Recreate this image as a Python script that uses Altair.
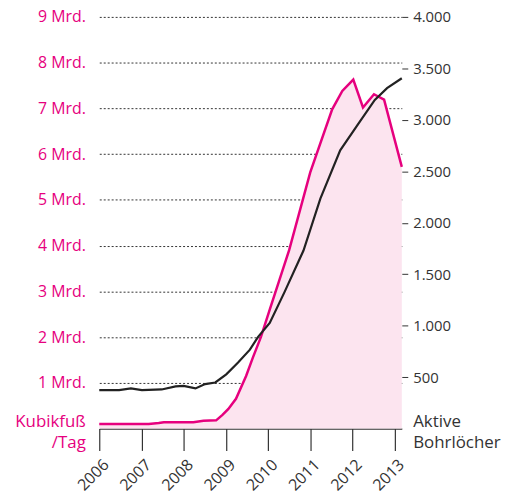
import altair as alt
import pandas as pd

# Erdgasförderung (Mrd. Kubikfuß/Tag)
gas_t = [2006.0, 2007.17, 2007.41, 2007.53, 2008.23, 2008.47, 2008.77, 2008.92, 2009.06,
         2009.24, 2009.48, 2009.64, 2009.83, 2010.04, 2010.27, 2010.5, 2011.0, 2011.52,
         2011.76, 2012.02, 2012.25, 2012.51, 2012.75, 2013.17]
gas_v = [0.1, 0.1, 0.12, 0.14, 0.14, 0.17, 0.18, 0.3, 0.43,
         0.65, 1.15, 1.55, 2.0, 2.6, 3.25, 3.9, 5.6, 6.98,
         7.38, 7.63, 7.02, 7.31, 7.19, 5.72]

# Aktive Bohrlöcher
rig_t = [2006.0, 2006.47, 2006.75, 2007.01, 2007.48, 2007.81, 2008.0, 2008.28, 2008.51,
         2008.75, 2009.01, 2009.29, 2009.57, 2009.76, 2010.04, 2010.39, 2010.84, 2011.24,
         2011.71, 2012.11, 2012.53, 2012.82, 2013.17]
rig_v = [374, 374, 390, 374, 380, 410, 415, 390, 432,
         448, 527, 642, 767, 889, 1026, 1326, 1730, 2235,
         2704, 2944, 3193, 3308, 3404]

years = [2006, 2007, 2008, 2009, 2010, 2011, 2012, 2013]
gas_ticks = [1, 2, 3, 4, 5, 6, 7, 8, 9]
rig_ticks = [500, 1000, 1500, 2000, 2500, 3000, 3500, 4000]

MAGENTA = "#e6007e"
PINK = "#fce4ef"
DARK = "#222222"
FONT = "Open Sans"
W = 500

gas_df = pd.DataFrame({"t": gas_t, "gas": gas_v})
rig_df = pd.DataFrame({"t": rig_t, "rigs": rig_v})

x_enc = alt.X(
    "t:Q",
    scale=alt.Scale(domain=[2006, 2013.17], nice=False, zero=False),
    axis=alt.Axis(
        values=years, format="d", labelAngle=-45, tickSize=22, tickColor="#333",
        tickWidth=1.2, domainColor="#333", domainWidth=1.2, grid=False, title=None,
        labelFont=FONT, labelFontSize=16, labelFontWeight=W, labelColor="#333",
        labelPadding=6, labelOffset=1,
    ),
)

gas = alt.Chart(gas_df).mark_area(
    color=PINK, opacity=1,
    line=alt.OverlayMarkDef(color=MAGENTA, strokeWidth=2.5),
).encode(
    x=x_enc,
    y=alt.Y(
        "gas:Q",
        scale=alt.Scale(domain=[0, 9], nice=False),
        axis=alt.Axis(
            values=gas_ticks, labelExpr="datum.value + ' Mrd.'", grid=True,
            gridDash=[2, 2], gridColor="#333", gridWidth=1, ticks=False, domain=False,
            labelColor=MAGENTA, labelFont=FONT, labelFontSize=16, labelFontWeight=W,
            labelPadding=14,
            title=["Kubikfuß", "/Tag"], titleAngle=0, titleX=-14, titleY=400,
            titleAlign="right", titleBaseline="top", titleColor=MAGENTA,
            titleFont=FONT, titleFontSize=17, titleFontWeight=W, titleLineHeight=21,
        ),
    ),
)

rigs = alt.Chart(rig_df).mark_line(color=DARK, strokeWidth=2.2).encode(
    x=x_enc,
    y=alt.Y(
        "rigs:Q",
        scale=alt.Scale(domain=[0, 4000], nice=False),
        axis=alt.Axis(
            orient="right", values=rig_ticks,
            labelExpr="replace(format(datum.value, ','), ',', '.')",
            grid=False, domain=False, tickSize=6, tickColor="#333",
            labelColor="#333", labelFont=FONT, labelFontSize=15, labelFontWeight=W,
            labelPadding=5,
            title=["Aktive", "Bohrlöcher"], titleAngle=0, titleX=11, titleY=400,
            titleAlign="left", titleBaseline="top", titleColor="#333",
            titleFont=FONT, titleFontSize=17, titleFontWeight=W, titleLineHeight=21,
        ),
    ),
)

chart = alt.layer(gas, rigs).resolve_scale(y="independent").properties(
    width=305, height=415,
    autosize=alt.AutoSizeParams(type="none"),
    padding={"left": 92, "top": 7, "right": 100, "bottom": 66},
).configure_view(strokeWidth=0)

chart.save("out.html", embed_options={"renderer": "svg", "actions": False})
